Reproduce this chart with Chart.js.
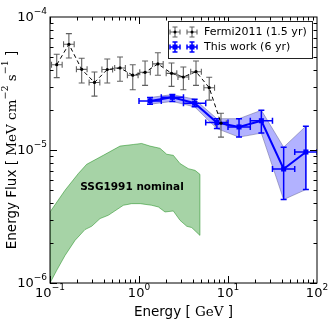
<!DOCTYPE html>
<html>
<head>
<meta charset="utf-8">
<script src="https://cdn.jsdelivr.net/npm/chart.js@4.4.0/dist/chart.umd.min.js"></script>
<style>
  html, body { margin: 0; padding: 0; background: #fff; }
  #wrap { width: 334px; height: 334px; }
</style>
</head>
<body>
<div id="wrap"><canvas id="c" width="334" height="334"></canvas></div>
<script>
// Fermi2011 (1.5 yr)
const fermiE   = [0.119, 0.163, 0.227, 0.316, 0.44, 0.612, 0.851, 1.17, 1.63, 2.32, 3.15, 4.37, 6.15, 8.34];
const fermiELo = [0.104, 0.142, 0.198, 0.275, 0.383, 0.533, 0.741, 1.02, 1.42, 2.02, 2.74, 3.81, 5.36, 7.26];
const fermiEHi = [0.137, 0.187, 0.261, 0.363, 0.505, 0.703, 0.977, 1.34, 1.87, 2.66, 3.62, 5.02, 7.06, 9.57];
const fermiF   = [4.38e-5, 6.24e-5, 4.04e-5, 3.22e-5, 4.03e-5, 4.14e-5, 3.65e-5, 3.84e-5, 4.44e-5, 3.77e-5, 3.54e-5, 3.88e-5, 2.94e-5, 1.59e-5];
const fermiFHi = [5.25e-5, 7.50e-5, 4.89e-5, 3.86e-5, 4.83e-5, 5.00e-5, 4.38e-5, 4.67e-5, 5.39e-5, 4.51e-5, 4.21e-5, 4.67e-5, 3.52e-5, 1.89e-5];
const fermiFLo = [3.50e-5, 4.92e-5, 3.19e-5, 2.54e-5, 3.19e-5, 3.29e-5, 2.84e-5, 3.06e-5, 3.65e-5, 3.01e-5, 2.84e-5, 3.06e-5, 2.37e-5, 1.25e-5];

// This work (6 yr)
const workE   = [1.33, 2.37, 4.22, 7.5, 13.3, 23.7, 42.2, 75];
const workELo = [1.0, 1.78, 3.16, 5.62, 10.0, 17.8, 31.6, 56.2];
const workEHi = [1.78, 3.16, 5.62, 10.0, 17.8, 31.6, 56.2, 100];
const workF   = [2.34e-5, 2.49e-5, 2.25e-5, 1.61e-5, 1.49e-5, 1.66e-5, 7.2e-6, 9.66e-6];
const workFHi = [2.48e-5, 2.61e-5, 2.41e-5, 1.72e-5, 1.72e-5, 1.99e-5, 1.05e-5, 1.51e-5];
const workFLo = [2.21e-5, 2.32e-5, 2.11e-5, 1.45e-5, 1.25e-5, 1.34e-5, 4.24e-6, 5.04e-6];

// SSG1991 nominal band
const ssgUpE = [0.1, 0.1475, 0.208, 0.258, 0.397, 0.612, 0.863, 1.07, 1.33, 1.72, 2.05, 2.43, 2.89, 3.58, 4.26, 4.84];
const ssgUpF = [3.42e-6, 4.98e-6, 6.65e-6, 7.80e-6, 9.12e-6, 1.07e-5, 1.10e-5, 1.12e-5, 1.07e-5, 1.03e-5, 9.29e-6, 9.12e-6, 7.91e-6, 7.24e-6, 7.03e-6, 6.56e-6];
const ssgLoE = [0.1, 0.119, 0.1475, 0.191, 0.247, 0.294, 0.365, 0.452, 0.667, 0.828, 1.03, 1.39, 1.65, 1.96, 2.43, 2.89, 3.44, 3.91, 4.84];
const ssgLoF = [1.0e-6, 1.245e-6, 1.61e-6, 2.09e-6, 2.52e-6, 2.67e-6, 3.05e-6, 3.23e-6, 3.84e-6, 3.95e-6, 3.95e-6, 3.84e-6, 3.73e-6, 3.42e-6, 3.48e-6, 2.96e-6, 2.67e-6, 2.61e-6, 2.28e-6];

const xTicks = [0.1, 1, 10, 100];
const yTicks = [1e-6, 1e-5, 1e-4];

const SANS = '"DejaVu Sans", sans-serif';
const SERIF = '"DejaVu Serif", serif';

function drawPow(ctx, x, y, exp, align, size) {
    // "10" with superscript exponent
    ctx.font = size + 'px ' + SANS;
    const wb = ctx.measureText('10').width;
    ctx.font = Math.round(size * 0.7) + 'px ' + SANS;
    const we = ctx.measureText(exp).width;
    let x0 = x;
    if (align === 'center') x0 = x - (wb + we) / 2;
    if (align === 'right') x0 = x - wb - we;
    ctx.textAlign = 'left';
    ctx.textBaseline = 'middle';
    ctx.font = size + 'px ' + SANS;
    ctx.fillText('10', x0, y);
    ctx.font = Math.round(size * 0.7) + 'px ' + SANS;
    ctx.fillText(exp, x0 + wb, y - size * 0.45);
}

function errBars(ctx, xs, y, xlo, xhi, ylo, yhi, color, lw, cap) {
    ctx.strokeStyle = color;
    ctx.lineWidth = lw;
    for (let i = 0; i < xs.length; i++) {
        const px = xs[i], py = y[i];
        ctx.beginPath();
        ctx.moveTo(xlo[i], py); ctx.lineTo(xhi[i], py);
        ctx.moveTo(px, ylo[i]); ctx.lineTo(px, yhi[i]);
        // caps
        ctx.moveTo(xlo[i], py - cap); ctx.lineTo(xlo[i], py + cap);
        ctx.moveTo(xhi[i], py - cap); ctx.lineTo(xhi[i], py + cap);
        ctx.moveTo(px - cap, ylo[i]); ctx.lineTo(px + cap, ylo[i]);
        ctx.moveTo(px - cap, yhi[i]); ctx.lineTo(px + cap, yhi[i]);
        ctx.stroke();
    }
}

function drawParts(ctx, parts, cx, cy, rot) {
    let total = 0;
    parts.forEach(p => { ctx.font = p[2] + 'px ' + p[1]; p.w = ctx.measureText(p[0]).width; total += p.w; });
    ctx.save();
    ctx.translate(cx, cy);
    ctx.rotate(rot);
    ctx.fillStyle = '#000';
    ctx.textAlign = 'left';
    ctx.textBaseline = 'middle';
    let x = -total / 2;
    parts.forEach(p => {
        ctx.font = p[2] + 'px ' + p[1];
        ctx.fillText(p[0], x, p[3]);
        x += p.w;
    });
    ctx.restore();
}

const bandPlugin = {
    id: 'bands',
    beforeDatasetsDraw(chart) {
        const ctx = chart.ctx, xs = chart.scales.x, ys = chart.scales.y, a = chart.chartArea;
        const px = v => xs.getPixelForValue(v), py = v => ys.getPixelForValue(v);
        ctx.save();
        ctx.beginPath();
        ctx.rect(a.left, a.top, a.right - a.left, a.bottom - a.top);
        ctx.clip();

        // green SSG band
        ctx.beginPath();
        ssgUpE.forEach((e, i) => i === 0 ? ctx.moveTo(px(e), py(ssgUpF[i])) : ctx.lineTo(px(e), py(ssgUpF[i])));
        for (let i = ssgLoE.length - 1; i >= 0; i--) ctx.lineTo(px(ssgLoE[i]), py(ssgLoF[i]));
        ctx.closePath();
        ctx.fillStyle = 'rgba(0,128,0,0.35)';
        ctx.fill();
        ctx.strokeStyle = 'rgba(0,128,0,0.45)';
        ctx.lineWidth = 1;
        ctx.stroke();

        // blue band
        ctx.beginPath();
        workE.forEach((e, i) => i === 0 ? ctx.moveTo(px(e), py(workFHi[i])) : ctx.lineTo(px(e), py(workFHi[i])));
        for (let i = workE.length - 1; i >= 0; i--) ctx.lineTo(px(workE[i]), py(workFLo[i]));
        ctx.closePath();
        ctx.fillStyle = 'rgba(0,0,255,0.3)';
        ctx.fill();
        ctx.strokeStyle = 'rgba(90,90,140,0.6)';
        ctx.lineWidth = 0.8;
        ctx.stroke();

        // error bars
        errBars(ctx, fermiE.map(px), fermiF.map(py), fermiELo.map(px), fermiEHi.map(px),
            fermiFLo.map(py), fermiFHi.map(py), '#606060', 1.1, 3);
        errBars(ctx, workE.map(px), workF.map(py), workELo.map(px), workEHi.map(px),
            workFLo.map(py), workFHi.map(py), '#0000ff', 1.5, 3);
        ctx.restore();
    },
    afterDraw(chart) {
        const ctx = chart.ctx, xs = chart.scales.x, ys = chart.scales.y, a = chart.chartArea;
        ctx.save();
        // frame
        ctx.strokeStyle = '#000';
        ctx.lineWidth = 1;
        ctx.strokeRect(a.left, a.top, a.right - a.left, a.bottom - a.top);

        // ticks (inward, all sides)
        ctx.beginPath();
        for (let d = -1; d < 2; d++) {
            for (let m = 1; m < 10; m++) {
                const v = m * Math.pow(10, d);
                const x = Math.round(xs.getPixelForValue(v)) + 0.5;
                const len = m === 1 ? 7 : 3.5;
                ctx.moveTo(x, a.bottom); ctx.lineTo(x, a.bottom - len);
                ctx.moveTo(x, a.top); ctx.lineTo(x, a.top + len);
            }
        }
        for (let d = -6; d < -4; d++) {
            for (let m = 1; m < 10; m++) {
                const v = m * Math.pow(10, d);
                const y = Math.round(ys.getPixelForValue(v)) + 0.5;
                const len = m === 1 ? 7 : 3.5;
                ctx.moveTo(a.left, y); ctx.lineTo(a.left + len, y);
                ctx.moveTo(a.right, y); ctx.lineTo(a.right - len, y);
            }
        }
        ctx.stroke();

        // tick labels
        ctx.fillStyle = '#000';
        xTicks.forEach(v => {
            drawPow(ctx, xs.getPixelForValue(v), a.bottom + 11, String(Math.round(Math.log10(v))).replace('-', '\u2212'), 'center', 13);
        });
        yTicks.forEach(v => {
            drawPow(ctx, a.left - 3, ys.getPixelForValue(v) + 1, String(Math.round(Math.log10(v))).replace('-', '\u2212'), 'right', 13);
        });

        // x label
        const xParts = [['Energy [ ', SANS, 13.5, 0], ['GeV', SERIF, 13.5, 0], [' ]', SANS, 13.5, 0]];
        drawParts(ctx, xParts, (a.left + a.right) / 2, 312, 0);
        // y label
        const yParts = [['Energy Flux [ ', SANS, 13.5, 0], ['MeV cm', SERIF, 13.5, 0], ['\u22122', SERIF, 9.5, -6],
            [' s', SERIF, 13.5, 0], ['\u22121', SERIF, 9.5, -6], [' ]', SANS, 13.5, 0]];
        drawParts(ctx, yParts, 12, (a.top + a.bottom) / 2, -Math.PI / 2);

        // SSG label
        ctx.font = 'bold 10.5px ' + SANS;
        ctx.textAlign = 'center';
        ctx.textBaseline = 'middle';
        ctx.fillText('SSG1991 nominal', 132, 187);

        // legend
        ctx.fillStyle = '#fff';
        ctx.fillRect(168.5, 21.5, 144, 37);
        ctx.strokeStyle = '#222';
        ctx.lineWidth = 1;
        ctx.strokeRect(168.5, 21.5, 144, 37);
        [175, 192].forEach(lx => {
            errBars(ctx, [lx], [32], [lx - 5], [lx + 5], [27], [37], '#606060', 1.1, 2.5);
            ctx.fillStyle = '#000';
            ctx.beginPath(); ctx.arc(lx, 32, 1.5, 0, Math.PI * 2); ctx.fill();
            errBars(ctx, [lx], [47], [lx - 5], [lx + 5], [42], [52], '#0000ff', 1.5, 2.5);
            ctx.fillStyle = '#0000ff';
            ctx.fillRect(lx - 2.5, 44.5, 5, 5);
        });
        ctx.fillStyle = '#000';
        ctx.font = '11px ' + SANS;
        ctx.textAlign = 'left';
        ctx.textBaseline = 'middle';
        ctx.fillText('Fermi2011 (1.5 yr)', 204, 32);
        ctx.fillText('This work (6 yr)', 204, 47);
        ctx.restore();
    }
};

new Chart(document.getElementById('c'), {
    type: 'scatter',
    data: {
        datasets: [
            {
                label: 'Fermi2011 (1.5 yr)',
                data: fermiE.map((e, i) => ({ x: e, y: fermiF[i] })),
                showLine: true,
                borderColor: '#000',
                borderWidth: 1,
                borderDash: [4, 3],
                pointRadius: 1.6,
                pointBackgroundColor: '#000',
                pointBorderWidth: 0
            },
            {
                label: 'This work (6 yr)',
                data: workE.map((e, i) => ({ x: e, y: workF[i] })),
                showLine: true,
                borderColor: '#0000ff',
                borderWidth: 2,
                pointStyle: 'rect',
                pointRadius: 3.6,
                pointBackgroundColor: '#0000ff',
                pointBorderColor: '#0000ff',
                pointBorderWidth: 0
            }
        ]
    },
    options: {
        responsive: false,
        animation: false,
        events: [],
        layout: { padding: { left: 50, top: 17, right: 17, bottom: 51 } },
        plugins: { legend: { display: false }, tooltip: { enabled: false } },
        scales: {
            x: { type: 'logarithmic', min: 0.1, max: 100, display: false },
            y: { type: 'logarithmic', min: 1e-6, max: 1e-4, display: false }
        }
    },
    plugins: [bandPlugin]
});
</script>
</body>
</html>
